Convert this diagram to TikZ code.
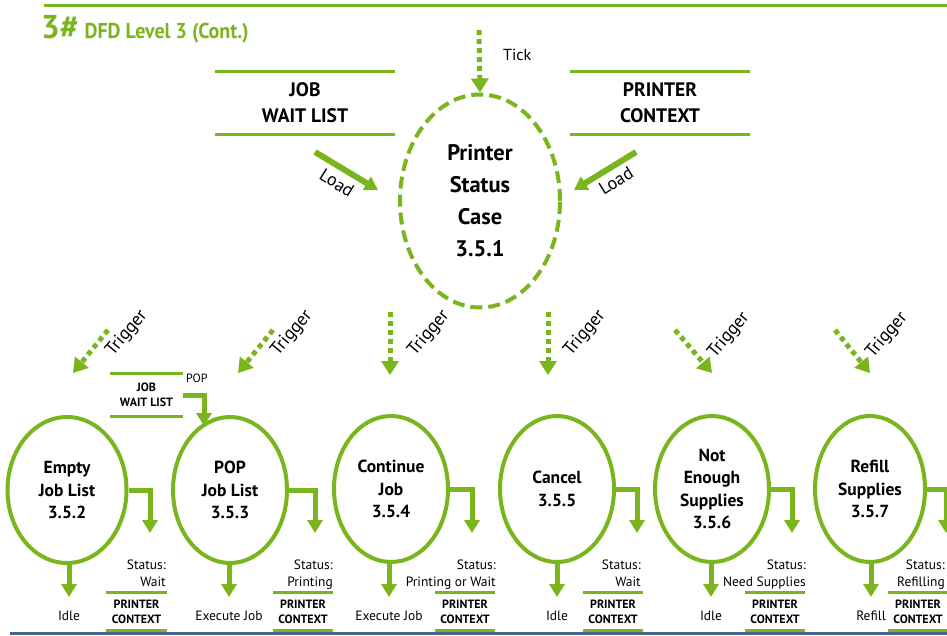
\documentclass[tikz,border=0pt]{standalone}
\usepackage{fontspec}
\setmainfont{PT Sans}
\usetikzlibrary{arrows.meta,shapes.geometric,positioning,calc}
\definecolor{grn}{RGB}{122,181,29}
\definecolor{slate}{RGB}{72,100,136}
\newcommand{\fsz}[2]{\fontsize{#1}{#2}\selectfont}
\begin{document}
\begin{tikzpicture}[x=1pt,y=-1pt,
  proc/.style={ellipse, draw=grn, line width=4pt, inner sep=0pt, minimum width=114pt, minimum height=146pt, align=center, font=\fsz{17.5}{22.5}\bfseries},
  flow/.style={draw=grn, line width=5pt, -{Triangle[width=15pt,length=13pt]}},
  trig/.style={draw=grn, line width=5pt, dash pattern=on 5pt off 4pt, -{Triangle[width=17pt,length=14pt]}},
  storeline/.style={draw=grn, line width=3pt},
  bigstore/.style={inner sep=0pt, minimum width=180pt, minimum height=62pt, align=center, font=\fsz{19.5}{26}\bfseries},
  smallstore/.style={inner sep=0pt, minimum width=60pt, minimum height=37pt, align=center, font=\fsz{12}{15}\bfseries},
  lbl/.style={inner sep=0pt, font=\fsz{16}{18}},
  rlbl/.style={inner sep=0pt, font=\fsz{18}{20}},
  stat/.style={inner sep=0pt, align=right, anchor=north east, font=\fsz{13.5}{16.5}},
  outlbl/.style={inner sep=0pt, font=\fsz{13.5}{16}}
]
\useasboundingbox (0,0) rectangle (947,635);
\fill[white] (0,0) rectangle (947,635);
% header
\draw[grn, line width=3pt] (44,5) -- (947,5);
\node[anchor=base west, inner sep=0pt, text=grn] (title) at (41,38) {{\fsz{33}{33}\bfseries 3\#}\hspace{6pt}\scalebox{0.93}[1]{\fsz{21.5}{21.5}\bfseries DFD Level 3 (Cont.)}};
\draw[slate, line width=3pt] (10,633.5) -- (947,633.5);

% top process
\node[ellipse, draw=grn, line width=4pt, dash pattern=on 12pt off 6pt, inner sep=0pt, minimum width=160pt, minimum height=213pt, align=center, font=\fsz{22.5}{32}\bfseries] (pc) at (480,201) {Printer\\Status\\Case\\3.5.1};
\coordinate (tickstart) at (479,30);
\draw[trig] (tickstart) -- (pc.north);
\node[lbl, anchor=west] (tick) at (503,55) {Tick};

% top stores
\node[bigstore] (jwl) at (305,103) {JOB\\WAIT LIST};
\draw[storeline] (jwl.north west) -- (jwl.north east);
\draw[storeline] (jwl.south west) -- (jwl.south east);
\node[bigstore] (pctx) at (660,103) {PRINTER\\CONTEXT};
\draw[storeline] (pctx.north west) -- (pctx.north east);
\draw[storeline] (pctx.south west) -- (pctx.south east);

\coordinate (l1s) at (315,152); \coordinate (l1e) at (378,190);
\coordinate (l2s) at (636,152); \coordinate (l2e) at (574,190);
\draw[flow, line width=6pt] (l1s) -- (l1e);
\draw[flow, line width=6pt] (l2s) -- (l2e);
\node[rlbl, rotate=-32] (load1) at (337,183) {Load};
\node[rlbl, rotate=32] (load2) at (616,181) {Load};

% bottom processes
\node[proc, minimum width=119pt] (c1) at (67,490) {Empty\\Job List\\3.5.2};
\node[proc] (c2) at (230,490) {POP\\Job List\\3.5.3};
\node[proc] (c3) at (391,489) {Continue\\Job\\3.5.4};
\node[proc] (c4) at (557,489) {Cancel\\3.5.5};
\node[proc] (c5) at (712,489) {Not\\Enough\\Supplies\\3.5.6};
\node[proc, minimum width=110pt] (c6) at (870,489) {Refill\\Supplies\\3.5.7};

% triggers
\coordinate (t1s) at (108,330); \coordinate (t1e) at (73,373);
\coordinate (t2s) at (273,330); \coordinate (t2e) at (238,373);
\coordinate (t3s) at (390,312); \coordinate (t3e) at (390,375);
\coordinate (t4s) at (548,312); \coordinate (t4e) at (548,375);
\coordinate (t5s) at (675,330); \coordinate (t5e) at (712,373);
\coordinate (t6s) at (835,330); \coordinate (t6e) at (870,373);
\foreach \i in {1,...,6} { \draw[trig] (t\i s) -- (t\i e); }
\node[rlbl, rotate=50] (tr1) at (127,333) {Trigger};
\node[rlbl, rotate=50] (tr2) at (292,333) {Trigger};
\node[rlbl, rotate=50] (tr3) at (429,333) {Trigger};
\node[rlbl, rotate=50] (tr4) at (585,333) {Trigger};
\node[rlbl, rotate=50] (tr5) at (729,335) {Trigger};
\node[rlbl, rotate=50] (tr6) at (887,335) {Trigger};

% small job wait list + POP
\node[smallstore, minimum width=73pt, minimum height=42pt] (jwl2) at (146.5,395) {JOB\\WAIT LIST};
\draw[storeline] (jwl2.north west) -- (jwl2.north east);
\draw[storeline] (jwl2.south west) -- (jwl2.south east);
\node[inner sep=0pt, anchor=west, font=\fsz{12}{14}] (pop) at (186,378) {POP};
\coordinate (popend) at (204,426);
\draw[flow] (jwl2.east) -| (popend);

% per-column outputs
\foreach \n/\dx/\sx/\stx/\st/\ox/\ot in {
  1/150/136.5/166/{Status:\\Wait}/69/Idle,
  2/315/303/333/{Status:\\Printing}/229/Execute Job,
  3/472/465/496/{Status:\\Printing or Wait}/389/Execute Job,
  4/637/613/641/{Status:\\Wait}/557/Idle,
  5/792/775/806/{Status:\\Need Supplies}/711/Idle,
  6/946/918/945/{Status:\\Refilling}/871/Refill} {
  \coordinate (d\n) at (\dx,533);
  \draw[flow] (c\n.east) -| (d\n);
  \node[stat] (s\n) at (\stx,560) {\st};
  \node[smallstore] (p\n) at (\sx,611.5) {PRINTER\\CONTEXT};
  \draw[storeline] (p\n.north west) -- (p\n.north east);
  \draw[storeline] (p\n.south west) -- (p\n.south east);
  \coordinate (o\n) at (\ox,597);
  \draw[flow] (c\n.south -| o\n) -- (o\n);
  \node[outlbl] (ol\n) at (\ox,616) {\ot};
}
\end{tikzpicture}
\end{document}
